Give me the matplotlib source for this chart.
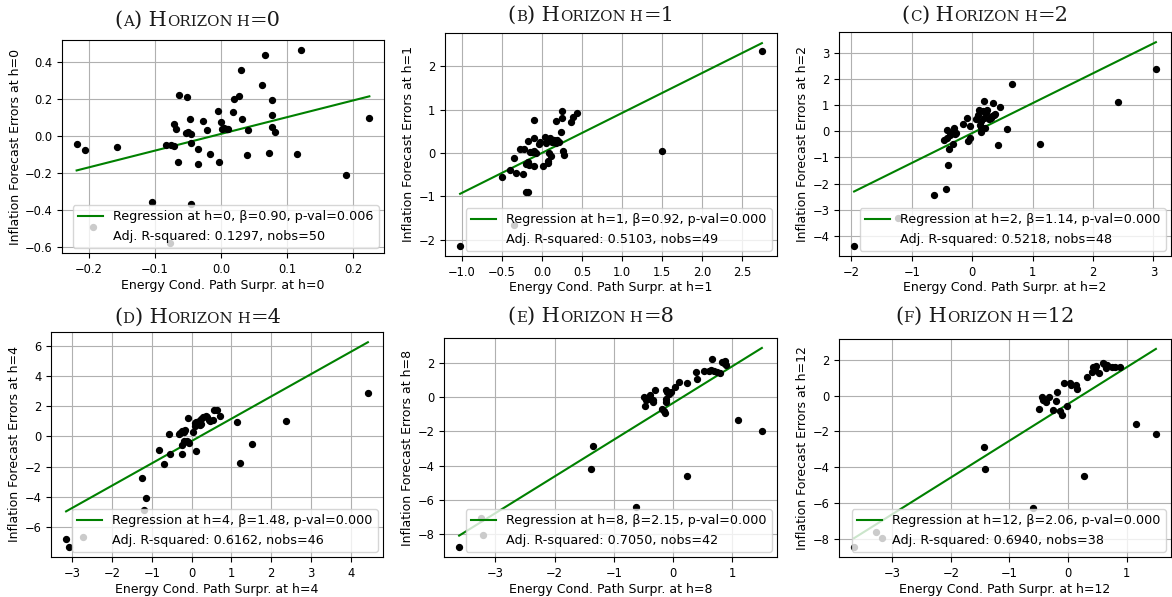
import numpy as np
import matplotlib
matplotlib.use("Agg")
import matplotlib.pyplot as plt
from matplotlib.ticker import MultipleLocator
from matplotlib.offsetbox import TextArea, HPacker, AnchoredOffsetbox

# ---------------- data ----------------
horizons = [0, 1, 2, 4, 8, 12]
panel_letters = ["A", "B", "C", "D", "E", "F"]
betas = [0.90, 0.92, 1.14, 1.48, 2.15, 2.06]
intercepts = [0.012, 0.003, -0.07, -0.31, -0.34, -0.46]
pvals = ["0.006", "0.000", "0.000", "0.000", "0.000", "0.000"]
adj_r2 = ["0.1297", "0.5103", "0.5218", "0.6162", "0.7050", "0.6940"]
nobs = [50, 49, 48, 46, 42, 38]

x_h0 = [-0.219, -0.206, -0.158, -0.104, -0.194, -0.077, -0.083, -0.076, -0.072, -0.072,
        -0.068, -0.063, -0.065, -0.052, -0.053, -0.046, -0.047, -0.046, -0.045, -0.035,
        -0.035, -0.028, -0.021, -0.017, -0.004, -0.003, 0.000, 0.001, 0.009, 0.011,
        0.018, 0.020, 0.028, 0.031, 0.032, 0.039, 0.041, 0.062, 0.066, 0.073,
        0.077, 0.078, 0.078, 0.082, 0.115, 0.122, 0.190, 0.225, 0.005, -0.050]
y_h0 = [-0.043, -0.075, -0.061, -0.353, -0.488, -0.578, -0.048, -0.048, -0.054, 0.068,
        0.036, 0.222, -0.142, 0.212, 0.018, 0.014, 0.090, -0.039, -0.366, -0.072,
        -0.151, 0.081, 0.032, -0.097, 0.135, -0.138, 0.077, 0.041, 0.041, 0.041,
        0.129, 0.199, 0.215, 0.355, 0.090, -0.102, 0.032, 0.273, 0.436, -0.093,
        0.050, 0.113, 0.194, 0.023, -0.097, 0.466, -0.210, 0.100, 0.045, 0.020]

x_h1 = [-1.025, 2.75, 1.50, -0.35, -0.50, -0.40, -0.33, -0.35, -0.275, -0.24,
        -0.22, -0.20, -0.20, -0.17, -0.18, -0.17, -0.16, -0.15, -0.125, -0.10,
        -0.10, -0.10, -0.10, -0.075, -0.04, -0.025, 0.01, 0.04, 0.05, 0.08,
        0.08, 0.09, 0.10, 0.11, 0.13, 0.15, 0.175, 0.18, 0.19, 0.21,
        0.24, 0.245, 0.245, 0.26, 0.28, 0.36, 0.39, 0.44, 0.12]
y_h1 = [-2.14, 2.35, 0.05, -1.67, -0.56, -0.38, -0.47, -0.12, 0.09, -0.49,
        0.10, -0.26, -0.90, -0.90, 0.27, -0.20, -0.27, 0.02, 0.02, 0.76,
        0.35, 0.04, -0.29, 0.00, 0.20, 0.26, -0.31, 0.37, 0.22, -0.24,
        -0.18, 0.00, 0.35, -0.06, 0.26, 0.31, 0.24, 0.73, 0.29, 0.25,
        0.49, 0.96, 0.81, 0.05, -0.05, 0.71, 0.82, 0.92, 0.28]

x_h2 = [-1.955, 3.04, 2.42, 1.13, -1.23, -0.63, -0.43, -0.40, -0.38, -0.47,
        -0.42, -0.41, -0.37, -0.34, -0.31, -0.30, -0.29, -0.27, -0.15, -0.08,
        -0.07, -0.04, -0.04, 0.055, 0.10, 0.115, 0.13, 0.15, 0.15, 0.18,
        0.19, 0.20, 0.21, 0.235, 0.25, 0.28, 0.31, 0.335, 0.35, 0.36,
        0.375, 0.43, 0.46, 0.57, 0.66, 0.15, -0.35, 0.22]
y_h2 = [-4.37, 2.37, 1.11, -0.50, -3.30, -2.44, -2.20, -1.30, -0.66, -0.33,
        0.03, -0.27, -0.14, -0.08, -0.49, 0.14, -0.12, -0.08, 0.27, 0.50,
        -0.37, -0.27, 0.21, 0.46, 0.63, 0.82, 0.24, -0.04, 0.18, 0.76,
        1.15, 0.50, 0.12, 0.76, 0.82, 0.46, 0.50, 0.57, 1.08, 0.63,
        0.66, -0.53, 0.93, 0.09, 1.79, 0.40, -0.05, 0.70]

x_h4 = [-3.15, -3.08, -2.73, -1.25, -1.14, -1.20, -0.81, -0.69, -0.54, -0.56,
        -0.25, -0.23, -0.31, -0.28, -0.23, -0.17, -0.19, -0.125, -0.08, -0.06,
        0.04, 0.08, 0.11, 0.125, 0.15, 0.19, 0.25, 0.29, 0.36, 0.39,
        0.46, 0.54, 0.57, 0.64, 0.71, 1.13, 1.21, 1.52, 2.37, 4.43,
        0.25, 0.21, -0.20, 0.10, 0.45, -0.10]
y_h4 = [-6.82, -7.32, -6.70, -2.76, -4.11, -4.90, -0.88, -1.85, -1.15, 0.14,
        -0.54, -1.15, 0.18, 0.25, 0.36, 0.41, -0.32, -0.32, 1.22, -0.47,
        0.29, 0.70, 0.93, -0.95, 0.81, 0.99, 1.15, 1.27, 1.38, 1.27,
        1.04, 1.08, 1.76, 1.72, 1.38, 0.97, -1.74, -0.50, 1.04, 2.85,
        0.81, 0.75, 0.30, 0.90, 1.10, -0.35]

x_h8 = [-3.61, -3.24, -3.20, -1.38, -1.35, -0.62, 0.24, 1.10, 1.50, -0.49,
        -0.47, -0.42, -0.39, -0.33, -0.33, -0.31, -0.18, -0.15, -0.135, -0.124,
        -0.11, -0.096, -0.07, -0.04, 0.03, 0.10, 0.24, 0.39, 0.40, 0.52,
        0.60, 0.64, 0.66, 0.69, 0.75, 0.79, 0.83, 0.88, 0.89, -0.12,
        -0.46, 0.86]
y_h8 = [-8.77, -7.08, -8.05, -4.19, -2.87, -6.43, -4.62, -1.36, -1.95, 0.00,
        -0.53, -0.10, 0.16, -0.29, -0.14, 0.45, -0.68, -0.78, -0.94, -0.10,
        0.45, 0.29, 0.19, 0.29, 0.62, 0.88, 0.82, 1.49, 1.07, 1.55,
        1.55, 1.60, 2.24, 1.55, 1.46, 1.40, 2.09, 2.12, 1.87, -0.29,
        -0.16, 2.03]

x_h12 = [-3.65, -3.27, -3.18, -1.44, -1.42, -0.59, 0.28, 1.16, 1.50, -0.50,
         -0.45, -0.42, -0.38, -0.32, -0.25, -0.21, -0.18, -0.14, -0.10, -0.06,
         -0.01, 0.03, 0.045, 0.13, 0.16, 0.33, 0.41, 0.42, 0.46, 0.48,
         0.60, 0.64, 0.66, 0.75, 0.80, 0.88, 0.53, 0.62]
y_h12 = [-8.48, -7.61, -7.98, -2.88, -4.08, -6.29, -4.49, -1.58, -2.13, -0.72,
         -0.07, -0.22, -0.35, -0.07, -0.78, -0.28, 0.19, -0.87, -1.09, 0.70,
         -0.59, 0.70, 0.61, 0.58, 0.37, 1.08, 1.35, 1.63, 1.45, 1.67,
         1.82, 1.54, 1.72, 1.63, 1.63, 1.63, 1.26, 1.78]

xs_all = [x_h0, x_h1, x_h2, x_h4, x_h8, x_h12]
ys_all = [y_h0, y_h1, y_h2, y_h4, y_h8, y_h12]

x_steps = [0.1, 0.5, 1, 1, 1, 1]
y_steps = [0.2, 1, 1, 2, 2, 2]

# ---------------- layout (pixels) ----------------
W, H = 1172, 597
fig = plt.figure(figsize=(W / 100, H / 100), dpi=100)

# left, right, top, bottom in pixels
axes_px = [(62, 384, 40, 253), (445, 777, 33, 256), (839, 1171, 32, 256),
           (51, 383, 332, 557), (444, 777, 338, 557), (839, 1171, 339, 557)]
title_px = [(198, 30), (591, 25), (985, 25), (198, 327), (591, 326), (985, 326)]

FS_TICK = 8.3
FS_LAB = 9.0
FS_LEG = 9.15
SERIF = "DejaVu Serif"
BIG, SMALL = 15.0, 10.8

def add_title(cx, by, letter, h):
    parts = [("(", BIG), (letter, SMALL), (")", BIG), (" H", BIG),
             ("ORIZON", SMALL), (" H", SMALL), ("=" + str(h), BIG)]
    kids = [TextArea(t, textprops=dict(fontsize=s, family=SERIF, color="#1a1a1a"))
            for t, s in parts]
    box = HPacker(children=kids, align="baseline", pad=0, sep=0)
    ab = AnchoredOffsetbox(loc="lower center", child=box, pad=0, borderpad=0,
                           bbox_to_anchor=(cx / W, 1 - by / H),
                           bbox_transform=fig.transFigure, frameon=False)
    fig.add_artist(ab)

for i in range(6):
    l, r, t, b = axes_px[i]
    ax = fig.add_axes([l / W, 1 - b / H, (r - l) / W, (b - t) / H])
    x = np.array(xs_all[i])
    y = np.array(ys_all[i])
    h = horizons[i]
    ax.scatter(x, y, s=18, color="black", zorder=3)
    xl = np.array([x.min(), x.max()])
    ax.plot(xl, intercepts[i] + betas[i] * xl, color="green", lw=1.5, zorder=2,
            label=f"Regression at h={h}, β={betas[i]:.2f}, p-val={pvals[i]}")
    ax.plot([], [], " ", label=f"Adj. R-squared: {adj_r2[i]}, nobs={nobs[i]}")
    ax.xaxis.set_major_locator(MultipleLocator(x_steps[i]))
    ax.yaxis.set_major_locator(MultipleLocator(y_steps[i]))
    ax.grid(True, color="#b0b0b0", lw=0.8)
    ax.set_axisbelow(True)
    ax.tick_params(labelsize=FS_TICK)
    ax.set_xlabel(f"Energy Cond. Path Surpr. at h={h}", fontsize=FS_LAB, labelpad=2)
    ax.set_ylabel(f"Inflation Forecast Errors at h={h}", fontsize=FS_LAB, labelpad=2)
    leg = ax.legend(loc="lower right", fontsize=FS_LEG, borderaxespad=0.4)
    leg.set_zorder(5)
    add_title(title_px[i][0], title_px[i][1], panel_letters[i], h)

fig.savefig("out.png", dpi=100)
